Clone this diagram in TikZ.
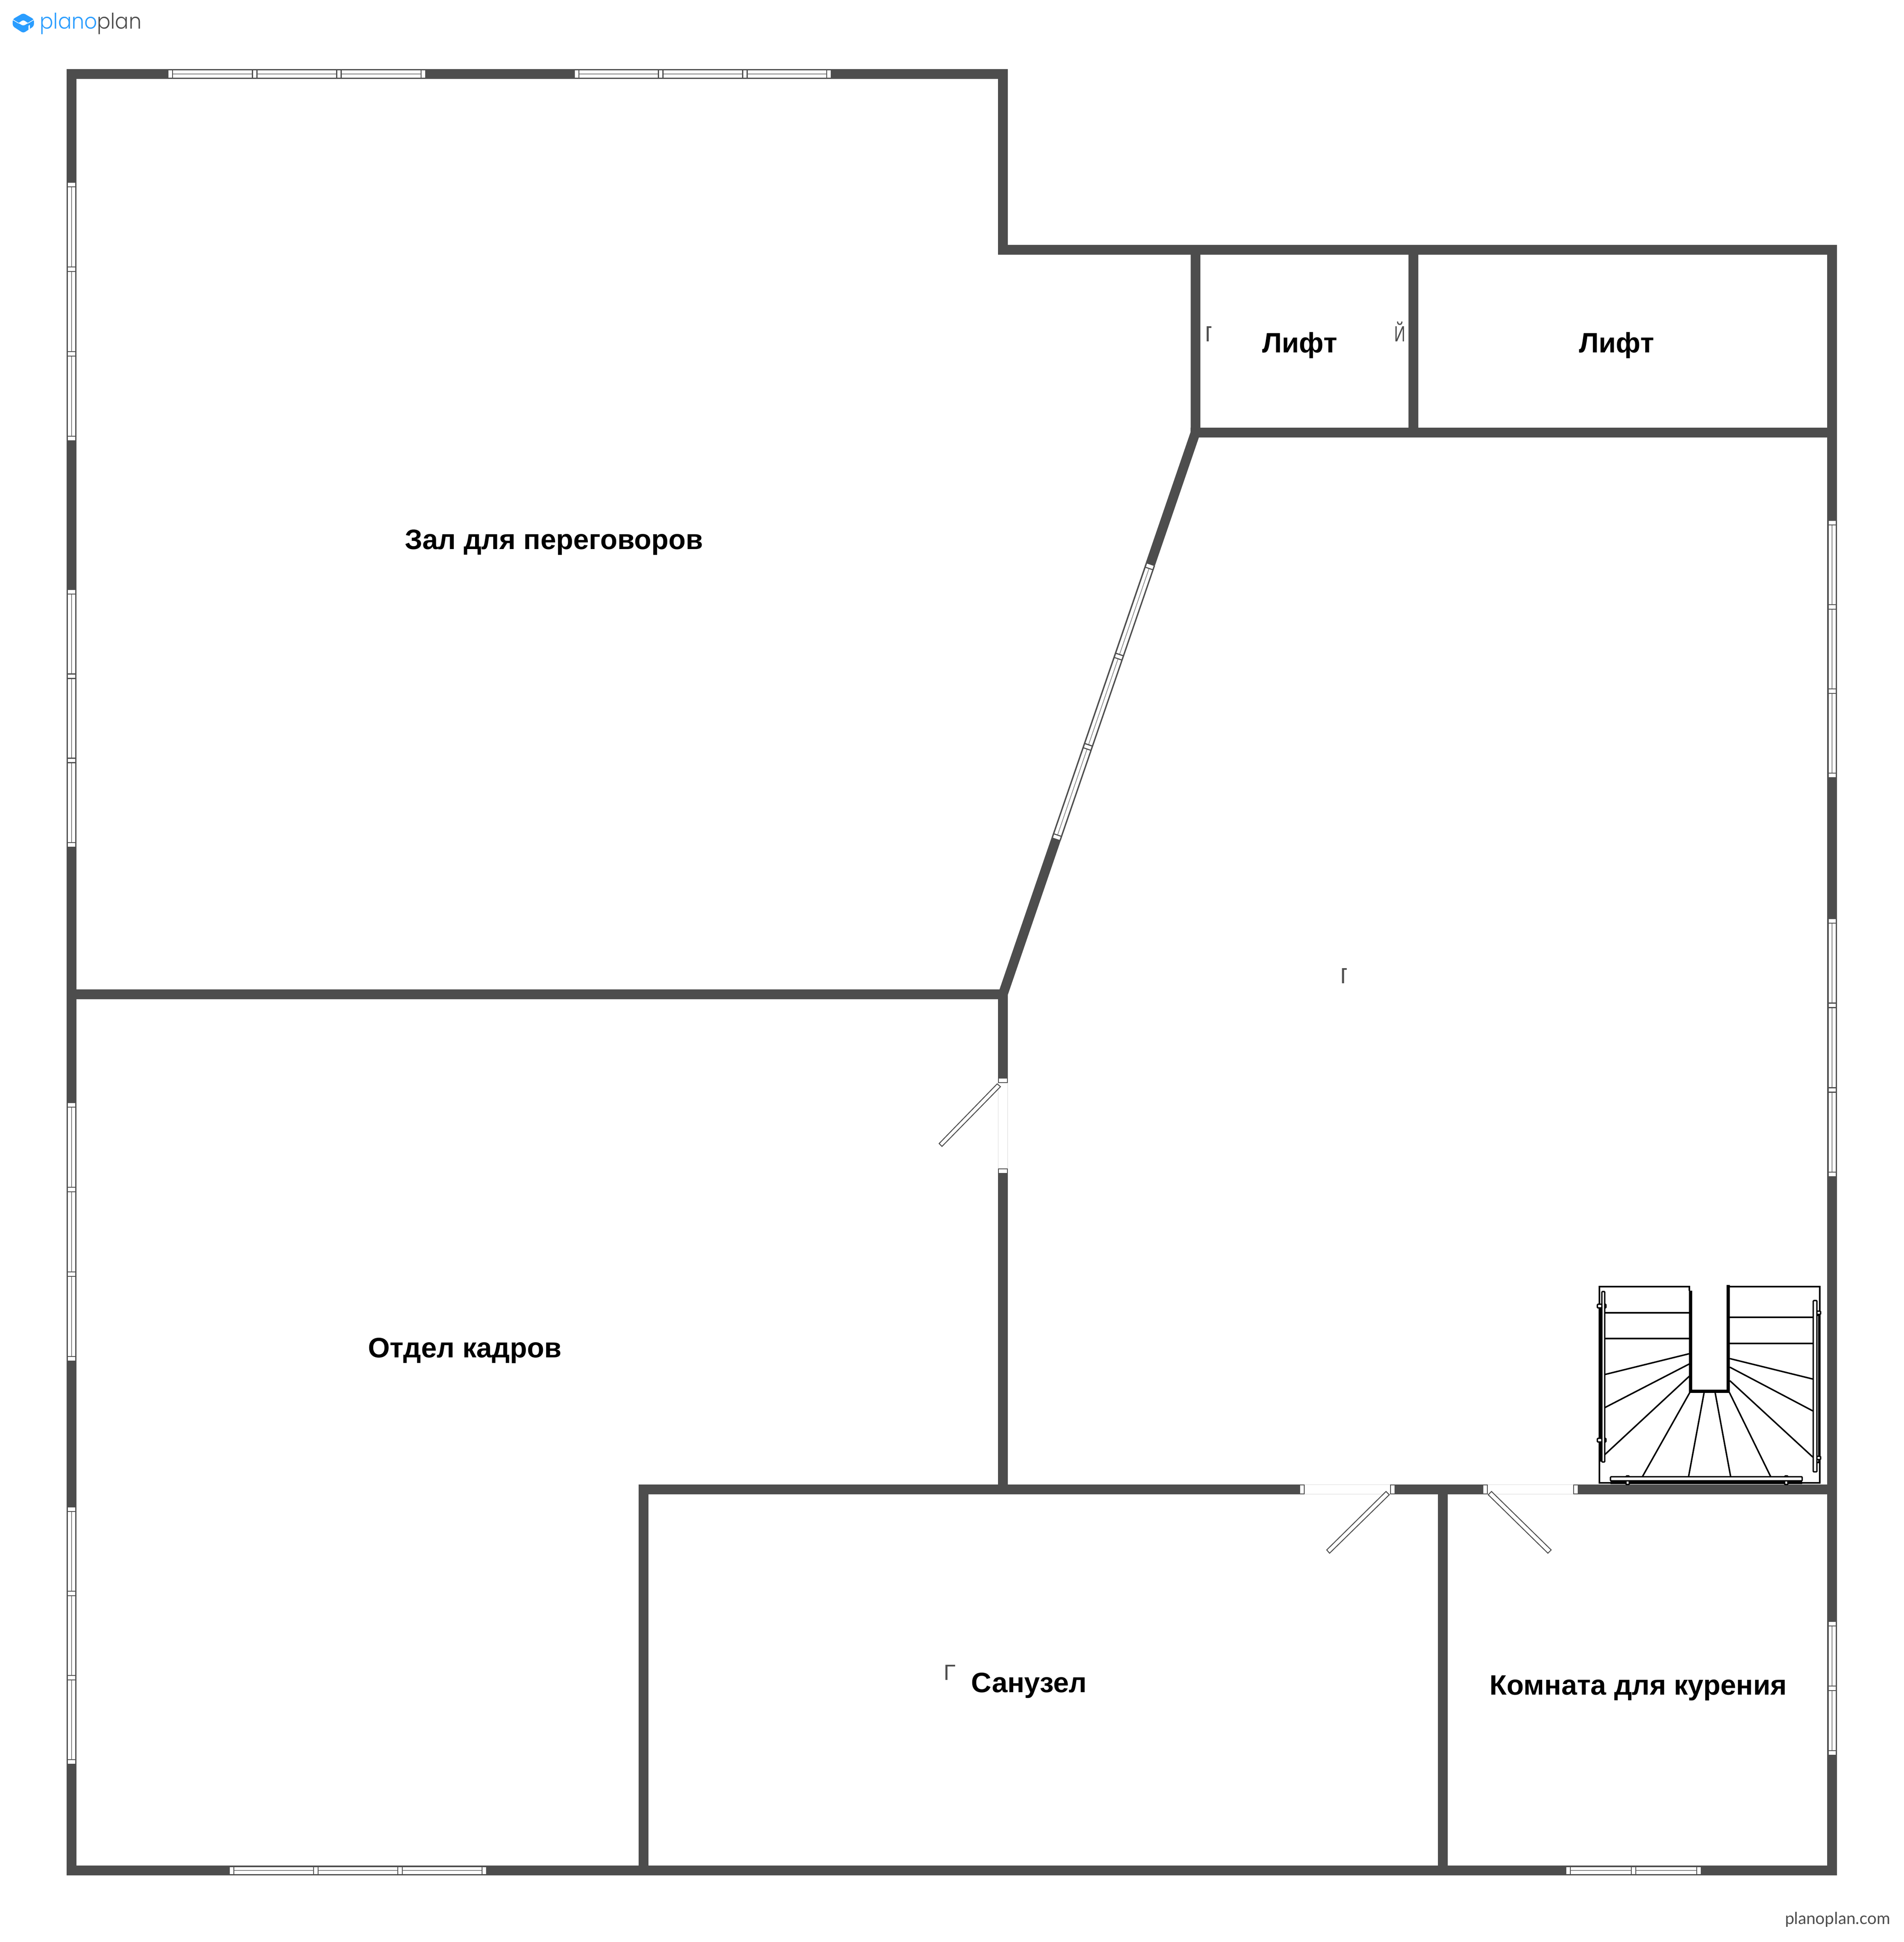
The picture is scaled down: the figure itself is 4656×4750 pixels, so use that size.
\documentclass[tikz,border=0pt]{standalone}
\usepackage{fontspec}
\usepackage{graphicx}
\setmainfont{Liberation Sans}
\newfontfamily\logofont{Poppins Light}
\newfontfamily\urlfont{Lato}
\definecolor{wallc}{HTML}{4D4D4D}
\definecolor{logoblue}{HTML}{2A9DFF}
\tikzset{
  wall/.style={draw=wallc,line width=23.5*0.1mm,line cap=rect,line join=miter},
  winedge/.style={draw=wallc,line width=0.33mm},
  winmid/.style={draw=wallc!70,line width=0.16mm},
  gapedge/.style={draw=black!15,line width=0.08mm},
  jamb/.style={draw=wallc,fill=white,line width=0.28mm},
  leaf/.style={draw=wallc,fill=white,line width=0.22mm},
  room/.style={font=\bfseries\fontsize{19.55}{24}\selectfont,text=black,anchor=base,inner sep=0pt},
  tiny/.style={font=\fontsize{15.3}{18}\selectfont,text=wallc,anchor=base west,inner sep=0pt},
  st/.style={draw=black,line width=0.36mm},
  stthick/.style={draw=black,line width=0.72mm},
  rail/.style={draw=black,fill=white,line width=0.33mm,rounded corners=0.15mm},
}
% #1,#2 start; #3,#4 end; #5 panes
\newcommand{\winsec}[5]{%
  \pgfmathsetmacro\wL{veclen(#3-#1,#4-#2)}%
  \pgfmathsetmacro\wA{atan2(-(#4-#2),#3-#1)}%
  \pgfmathsetmacro\wP{(\wL-11*(#5+1))/#5}%
  \begin{scope}[shift={(#1,#2)},rotate=\wA]
    \fill[white] (0,-11.8) rectangle (\wL,11.8);
    \draw[winedge] (0,-10.2) -- (\wL,-10.2);
    \draw[winedge] (0,10.2) -- (\wL,10.2);
    \foreach \k in {1,...,#5}{%
      \pgfmathsetmacro\sa{11+(\k-1)*(\wP+11)}%
      \pgfmathsetmacro\sb{\sa+\wP}%
      \draw[winmid] (\sa,0) -- (\sb,0);
      \draw[wallc,line width=0.25mm] (\sa-11,-10) -- (\sa-11,10);
      \draw[wallc,line width=0.25mm] (\sa,-10) -- (\sa,10);
      \draw[wallc,line width=0.25mm] (\sb,-10) -- (\sb,10);
    }
    \draw[wallc,line width=0.25mm] (\wL,-10) -- (\wL,10);
  \end{scope}}
% door gap, #1,#2 start; #3,#4 end
\newcommand{\doorgap}[4]{%
  \pgfmathsetmacro\wL{veclen(#3-#1,#4-#2)}%
  \pgfmathsetmacro\wA{atan2(-(#4-#2),#3-#1)}%
  \begin{scope}[shift={(#1,#2)},rotate=\wA]
    \fill[white] (0,-12.2) rectangle (\wL,12.2);
    \draw[gapedge] (0,-11.8) -- (\wL,-11.8);
    \draw[gapedge] (0,11.8) -- (\wL,11.8);
    \draw[jamb] (0,-11) rectangle (11,11);
    \draw[jamb] (\wL-11,-11) rectangle (\wL,11);
  \end{scope}}
\begin{document}
\begin{tikzpicture}[x=0.1mm,y=-0.1mm]
\useasboundingbox (0,0) rectangle (4656,4750);
\fill[white] (0,0) rectangle (4656,4750);
% walls
\draw[wall] (175,181) -- (2453,181) -- (2453,611) -- (4481,611) -- (4481,4575) -- (175,4575) -- cycle;
\draw[wall] (175,2432) -- (2453,2432) -- (2453,3643);
\draw[wall,line cap=butt] (2924,611) -- (2924,1058) -- (2453,2432);
\draw[wall] (2924,1058) -- (4481,1058);
\draw[wall] (3457,611) -- (3457,1058);
\draw[wall] (1574,4575) -- (1574,3643) -- (4481,3643);
\draw[wall] (3529,3643) -- (3529,4575);
% windows
\winsec{411}{181}{1041}{181}{3}
\winsec{1405}{181}{2033}{181}{3}
\winsec{175}{446}{175}{1078}{3}
\winsec{175}{1442}{175}{2072}{3}
\winsec{175}{2697}{175}{3329}{3}
\winsec{175}{3686}{175}{4315}{3}
\winsec{561}{4575}{1190}{4575}{3}
\winsec{3830}{4575}{4161}{4575}{2}
\winsec{4481}{1273}{4481}{1902}{3}
\winsec{4481}{2247}{4481}{2878}{3}
\winsec{4481}{3966}{4481}{4293}{2}
\winsec{2814}{1380}{2583}{2053}{3}
% doors
\doorgap{3179}{3643}{3412}{3643}
\doorgap{3627}{3643}{3860}{3643}
\doorgap{2453}{2637}{2453}{2870}
\draw[leaf] (3390,3648) -- (3398,3656) -- (3252,3799) -- (3245,3791) -- cycle;
\draw[leaf] (3648,3648) -- (3640,3656) -- (3786,3799) -- (3794,3791) -- cycle;
\draw[leaf] (2439,2651) -- (2447,2658) -- (2304,2804) -- (2297,2797) -- cycle;
% stairs
\draw[st] (4132,3157) -- (4132,3147) -- (3912,3147) -- (3912,3627) -- (4451,3627) -- (4451,3147) -- (4226,3147);
\draw[stthick] (3914,3194) -- (3914,3575);
\draw[stthick] (4135,3157) -- (4135,3403) -- (4227,3403) -- (4227,3143);
\draw[st] (3925,3211) -- (4132,3211);
\draw[st] (3925,3274) -- (4132,3274);
\draw[st] (3925,3362) -- (4132,3311);
\draw[st] (3925,3443) -- (4132,3336);
\draw[st] (3925,3558) -- (4132,3366);
\draw[st] (4017,3612) -- (4133,3406);
\draw[st] (4130,3612) -- (4168,3406);
\draw[st] (4233,3612) -- (4195,3406);
\draw[st] (4331,3612) -- (4230,3406);
\draw[st] (4231,3377) -- (4434,3564);
\draw[st] (4231,3344) -- (4434,3451);
\draw[st] (4231,3323) -- (4434,3373);
\draw[st] (4231,3222) -- (4434,3222);
\draw[st] (4231,3286) -- (4434,3286);
\draw[st] (4445,3217) -- (4449,3217) -- (4449,3577) -- (4445,3577);
\draw[stthick] (3939,3626) -- (4408,3626);
\draw[rail] (3907,3190) rectangle (3928,3199);
\draw[rail] (3907,3518) rectangle (3928,3527);
\draw[rail] (3918,3159) rectangle (3925,3576);
\draw[rail] (4436,3207) rectangle (4453,3215);
\draw[rail] (4436,3562) rectangle (4453,3570);
\draw[rail] (4435,3181) rectangle (4444,3600);
\draw[rail] (3977,3610) rectangle (3985,3631);
\draw[rail] (4365,3610) rectangle (4373,3631);
\draw[rail] (3939,3612) rectangle (4408,3622);
% labels
\node[room] (zal) at (1355,1343) {Зал для переговоров};
\node[room] (otd) at (1137,3320) {Отдел кадров};
\node[room] (san) at (2517,4139) {Санузел};
\node[room] (kom) at (4007,4145) {Комната для курения};
\node[room] (l1) at (3179,862) {Лифт};
\node[room] (l2) at (3954,862) {Лифт};
\begin{scope}
  \clip (2951,780) rectangle (2962,850);
  \node[tiny] (g1) at (2947,835) {Г};
\end{scope}
\node[tiny] (j1) at (3410,835) {\scalebox{0.7}[1]{Й}};
\begin{scope}
  \clip (3282,2350) rectangle (3293,2420);
  \node[tiny] (g2) at (3278,2405) {Г};
\end{scope}
\node[tiny] (g3) at (2308,4109) {Г};
% logo
\fill[logoblue,rounded corners=0.5mm] (57,32) -- (83,47) -- (83,64) -- (57,81) -- (31,64) -- (31,47) -- cycle;
\draw[white,line width=0.15mm] (31,48) -- (45,56.5);
\draw[white,line width=0.15mm] (83,48) -- (69,56.5);
\fill[white] (44,56.5) .. controls (50,55) and (52,50) .. (57,50) .. controls (62,50) and (64,55) .. (70,56.5) .. controls (64,58) and (62,62) .. (57,62) .. controls (52,62) and (50,58) .. (44,56.5) -- cycle;
\fill[white] (69.5,63) -- (73,61) -- (73,73) -- (69.5,75) -- cycle;
\node[font=\logofont\fontsize{15}{18}\selectfont,anchor=base west,inner sep=0pt] (logo) at (97,71) {\scalebox{0.93}[1]{\textcolor{logoblue}{plano}\textcolor{wallc}{plan}}};
\node[font=\urlfont\fontsize{11.5}{14}\selectfont,text=wallc,anchor=base east,inner sep=0pt] (url) at (4624,4706) {planoplan.com};
\end{tikzpicture}
\end{document}
